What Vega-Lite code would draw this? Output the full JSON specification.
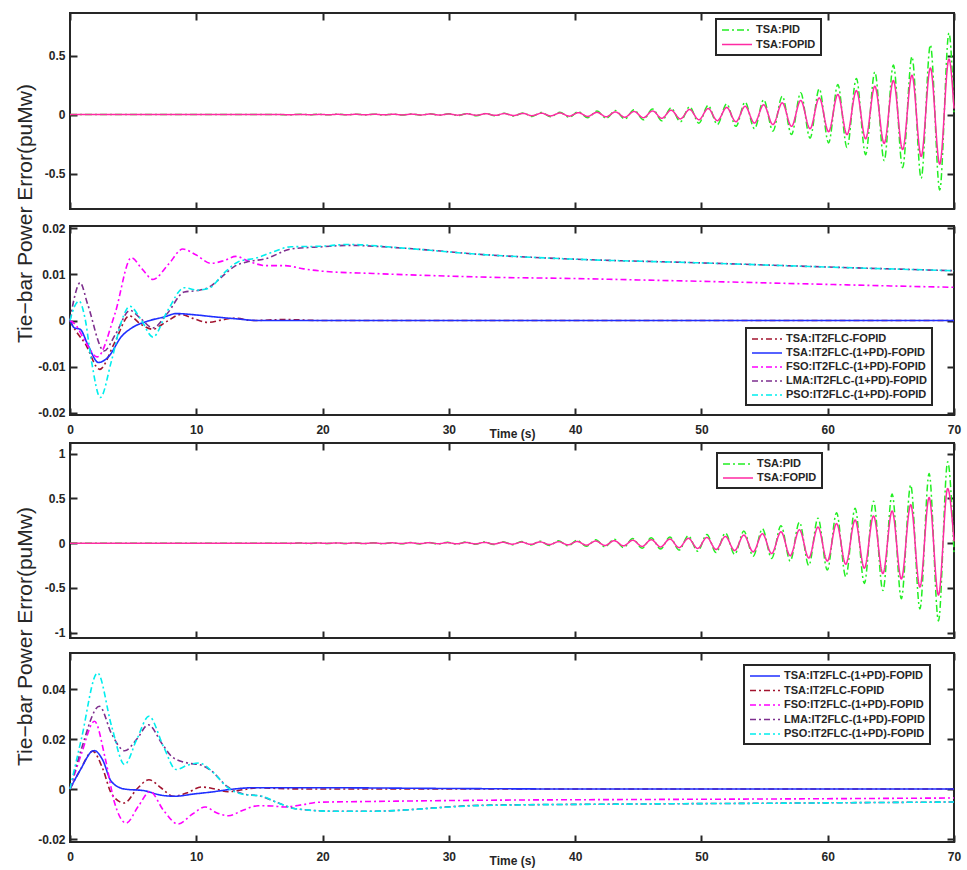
{
"$schema": "https://vega.github.io/schema/vega-lite/v6.json",
"background": "white",
"padding": {"left": 12, "top": 11, "right": 14, "bottom": 6},
"bounds": "flush",
"spacing": 5,
"config": {
  "view": {"stroke": "#262626", "strokeWidth": 2},
  "axis": {"domain": false, "grid": false, "tickColor": "#262626", "tickWidth": 2, "tickSize": -7, "labelFont": "Liberation Sans", "labelFontWeight": "bold", "labelFontSize": 12, "labelColor": "#262626", "labelFlush": false, "labelOverlap": false, "titleFont": "Liberation Sans", "titleColor": "#262626"},
  "axisBottom": {"labelPadding": 16},
  "axisLeft": {"labelPadding": 12},
  "legend": {"strokeWidth": 2}
},
"resolve": {"scale": {"color": "independent", "strokeDash": "independent", "x": "independent", "y": "independent"}},
"datasets": {
"p1": [
{"s":"TSA:PID","t":0,"v":0},{"s":"TSA:PID","t":10,"v":0},{"s":"TSA:PID","t":16,"v":0},
{"s":"TSA:PID","t":17.52,"v":-0.0015},{"s":"TSA:PID","t":18.26,"v":0.0015},{"s":"TSA:PID","t":18.99,"v":-0.0019},{"s":"TSA:PID","t":19.72,"v":0.002},{"s":"TSA:PID","t":20.46,"v":-0.0023},{"s":"TSA:PID","t":21.19,"v":0.0025},{"s":"TSA:PID","t":21.92,"v":-0.0028},{"s":"TSA:PID","t":22.66,"v":0.003},{"s":"TSA:PID","t":23.39,"v":-0.0033},{"s":"TSA:PID","t":24.12,"v":0.0035},{"s":"TSA:PID","t":24.86,"v":-0.004},{"s":"TSA:PID","t":25.59,"v":0.004},{"s":"TSA:PID","t":26.32,"v":-0.0047},{"s":"TSA:PID","t":27.06,"v":0.005},{"s":"TSA:PID","t":27.79,"v":-0.0056},{"s":"TSA:PID","t":28.52,"v":0.006},{"s":"TSA:PID","t":29.26,"v":-0.0067},{"s":"TSA:PID","t":29.99,"v":0.007},{"s":"TSA:PID","t":30.72,"v":-0.008},{"s":"TSA:PID","t":31.46,"v":0.0085},{"s":"TSA:PID","t":32.19,"v":-0.0095},{"s":"TSA:PID","t":32.93,"v":0.01},{"s":"TSA:PID","t":33.66,"v":-0.011},{"s":"TSA:PID","t":34.39,"v":0.012},{"s":"TSA:PID","t":35.13,"v":-0.013},{"s":"TSA:PID","t":35.86,"v":0.014},{"s":"TSA:PID","t":36.59,"v":-0.016},{"s":"TSA:PID","t":37.33,"v":0.017},{"s":"TSA:PID","t":38.06,"v":-0.019},{"s":"TSA:PID","t":38.79,"v":0.02},{"s":"TSA:PID","t":39.53,"v":-0.023},{"s":"TSA:PID","t":40.26,"v":0.024},{"s":"TSA:PID","t":40.99,"v":-0.027},{"s":"TSA:PID","t":41.73,"v":0.029},{"s":"TSA:PID","t":42.46,"v":-0.032},{"s":"TSA:PID","t":43.19,"v":0.034},{"s":"TSA:PID","t":43.93,"v":-0.038},{"s":"TSA:PID","t":44.66,"v":0.04},{"s":"TSA:PID","t":45.4,"v":-0.045},{"s":"TSA:PID","t":46.13,"v":0.048},{"s":"TSA:PID","t":46.86,"v":-0.053},{"s":"TSA:PID","t":47.6,"v":0.056},{"s":"TSA:PID","t":48.33,"v":-0.062},{"s":"TSA:PID","t":49.06,"v":0.066},{"s":"TSA:PID","t":49.8,"v":-0.073},{"s":"TSA:PID","t":50.53,"v":0.078},{"s":"TSA:PID","t":51.26,"v":-0.085},{"s":"TSA:PID","t":52,"v":0.09},{"s":"TSA:PID","t":52.73,"v":-0.1},{"s":"TSA:PID","t":53.46,"v":0.105},{"s":"TSA:PID","t":54.2,"v":-0.12},{"s":"TSA:PID","t":54.93,"v":0.125},{"s":"TSA:PID","t":55.66,"v":-0.14},{"s":"TSA:PID","t":56.4,"v":0.155},{"s":"TSA:PID","t":57.13,"v":-0.17},{"s":"TSA:PID","t":57.86,"v":0.184},{"s":"TSA:PID","t":58.6,"v":-0.2},{"s":"TSA:PID","t":59.33,"v":0.218},{"s":"TSA:PID","t":60.07,"v":-0.24},{"s":"TSA:PID","t":60.8,"v":0.255},{"s":"TSA:PID","t":61.53,"v":-0.28},{"s":"TSA:PID","t":62.27,"v":0.305},{"s":"TSA:PID","t":63,"v":-0.34},{"s":"TSA:PID","t":63.73,"v":0.36},{"s":"TSA:PID","t":64.47,"v":-0.39},{"s":"TSA:PID","t":65.2,"v":0.42},{"s":"TSA:PID","t":65.93,"v":-0.45},{"s":"TSA:PID","t":66.67,"v":0.49},{"s":"TSA:PID","t":67.4,"v":-0.54},{"s":"TSA:PID","t":68.13,"v":0.59},{"s":"TSA:PID","t":68.87,"v":-0.64},{"s":"TSA:PID","t":69.6,"v":0.69},{"s":"TSA:PID","t":70,"v":0.02},
{"s":"TSA:FOPID","t":0,"v":0},{"s":"TSA:FOPID","t":10,"v":0},{"s":"TSA:FOPID","t":16,"v":0},
{"s":"TSA:FOPID","t":17.52,"v":-0.001},{"s":"TSA:FOPID","t":18.26,"v":0.0012},{"s":"TSA:FOPID","t":18.99,"v":-0.0012},{"s":"TSA:FOPID","t":19.72,"v":0.0015},{"s":"TSA:FOPID","t":20.46,"v":-0.0015},{"s":"TSA:FOPID","t":21.19,"v":0.0018},{"s":"TSA:FOPID","t":21.92,"v":-0.0018},{"s":"TSA:FOPID","t":22.66,"v":0.0022},{"s":"TSA:FOPID","t":23.39,"v":-0.0022},{"s":"TSA:FOPID","t":24.12,"v":0.0026},{"s":"TSA:FOPID","t":24.86,"v":-0.0026},{"s":"TSA:FOPID","t":25.59,"v":0.003},{"s":"TSA:FOPID","t":26.32,"v":-0.003},{"s":"TSA:FOPID","t":27.06,"v":0.0036},{"s":"TSA:FOPID","t":27.79,"v":-0.0036},{"s":"TSA:FOPID","t":28.52,"v":0.0042},{"s":"TSA:FOPID","t":29.26,"v":-0.0042},{"s":"TSA:FOPID","t":29.99,"v":0.005},{"s":"TSA:FOPID","t":30.72,"v":-0.005},{"s":"TSA:FOPID","t":31.46,"v":0.006},{"s":"TSA:FOPID","t":32.19,"v":-0.006},{"s":"TSA:FOPID","t":32.93,"v":0.007},{"s":"TSA:FOPID","t":33.66,"v":-0.007},{"s":"TSA:FOPID","t":34.39,"v":0.0082},{"s":"TSA:FOPID","t":35.13,"v":-0.0082},{"s":"TSA:FOPID","t":35.86,"v":0.0097},{"s":"TSA:FOPID","t":36.59,"v":-0.0097},{"s":"TSA:FOPID","t":37.33,"v":0.0115},{"s":"TSA:FOPID","t":38.06,"v":-0.0115},{"s":"TSA:FOPID","t":38.79,"v":0.0135},{"s":"TSA:FOPID","t":39.53,"v":-0.0135},{"s":"TSA:FOPID","t":40.26,"v":0.016},{"s":"TSA:FOPID","t":40.99,"v":-0.016},{"s":"TSA:FOPID","t":41.73,"v":0.019},{"s":"TSA:FOPID","t":42.46,"v":-0.019},{"s":"TSA:FOPID","t":43.19,"v":0.022},{"s":"TSA:FOPID","t":43.93,"v":-0.023},{"s":"TSA:FOPID","t":44.66,"v":0.026},{"s":"TSA:FOPID","t":45.4,"v":-0.027},{"s":"TSA:FOPID","t":46.13,"v":0.031},{"s":"TSA:FOPID","t":46.86,"v":-0.032},{"s":"TSA:FOPID","t":47.6,"v":0.037},{"s":"TSA:FOPID","t":48.33,"v":-0.037},{"s":"TSA:FOPID","t":49.06,"v":0.043},{"s":"TSA:FOPID","t":49.8,"v":-0.044},{"s":"TSA:FOPID","t":50.53,"v":0.051},{"s":"TSA:FOPID","t":51.26,"v":-0.052},{"s":"TSA:FOPID","t":52,"v":0.06},{"s":"TSA:FOPID","t":52.73,"v":-0.061},{"s":"TSA:FOPID","t":53.46,"v":0.07},{"s":"TSA:FOPID","t":54.2,"v":-0.072},{"s":"TSA:FOPID","t":54.93,"v":0.083},{"s":"TSA:FOPID","t":55.66,"v":-0.085},{"s":"TSA:FOPID","t":56.4,"v":0.099},{"s":"TSA:FOPID","t":57.13,"v":-0.1},{"s":"TSA:FOPID","t":57.86,"v":0.119},{"s":"TSA:FOPID","t":58.6,"v":-0.12},{"s":"TSA:FOPID","t":59.33,"v":0.141},{"s":"TSA:FOPID","t":60.07,"v":-0.145},{"s":"TSA:FOPID","t":60.8,"v":0.17},{"s":"TSA:FOPID","t":61.53,"v":-0.17},{"s":"TSA:FOPID","t":62.27,"v":0.203},{"s":"TSA:FOPID","t":63,"v":-0.205},{"s":"TSA:FOPID","t":63.73,"v":0.24},{"s":"TSA:FOPID","t":64.47,"v":-0.245},{"s":"TSA:FOPID","t":65.2,"v":0.288},{"s":"TSA:FOPID","t":65.93,"v":-0.297},{"s":"TSA:FOPID","t":66.67,"v":0.333},{"s":"TSA:FOPID","t":67.4,"v":-0.355},{"s":"TSA:FOPID","t":68.13,"v":0.395},{"s":"TSA:FOPID","t":68.87,"v":-0.42},{"s":"TSA:FOPID","t":69.6,"v":0.47},{"s":"TSA:FOPID","t":70,"v":0.05}
],
"p3": [
{"s":"TSA:PID","t":0,"v":0},{"s":"TSA:PID","t":10,"v":0},{"s":"TSA:PID","t":16,"v":0},
{"s":"TSA:PID","t":17.42,"v":-0.0023},{"s":"TSA:PID","t":18.16,"v":0.0023},{"s":"TSA:PID","t":18.89,"v":-0.0028},{"s":"TSA:PID","t":19.62,"v":0.0028},{"s":"TSA:PID","t":20.36,"v":-0.0034},{"s":"TSA:PID","t":21.09,"v":0.0034},{"s":"TSA:PID","t":21.82,"v":-0.004},{"s":"TSA:PID","t":22.56,"v":0.004},{"s":"TSA:PID","t":23.29,"v":-0.0048},{"s":"TSA:PID","t":24.02,"v":0.005},{"s":"TSA:PID","t":24.76,"v":-0.0057},{"s":"TSA:PID","t":25.49,"v":0.006},{"s":"TSA:PID","t":26.22,"v":-0.0067},{"s":"TSA:PID","t":26.96,"v":0.007},{"s":"TSA:PID","t":27.69,"v":-0.008},{"s":"TSA:PID","t":28.42,"v":0.0085},{"s":"TSA:PID","t":29.16,"v":-0.0093},{"s":"TSA:PID","t":29.89,"v":0.01},{"s":"TSA:PID","t":30.62,"v":-0.011},{"s":"TSA:PID","t":31.36,"v":0.012},{"s":"TSA:PID","t":32.09,"v":-0.013},{"s":"TSA:PID","t":32.83,"v":0.0145},{"s":"TSA:PID","t":33.56,"v":-0.015},{"s":"TSA:PID","t":34.29,"v":0.017},{"s":"TSA:PID","t":35.03,"v":-0.018},{"s":"TSA:PID","t":35.76,"v":0.02},{"s":"TSA:PID","t":36.49,"v":-0.021},{"s":"TSA:PID","t":37.23,"v":0.023},{"s":"TSA:PID","t":37.96,"v":-0.025},{"s":"TSA:PID","t":38.69,"v":0.027},{"s":"TSA:PID","t":39.43,"v":-0.03},{"s":"TSA:PID","t":40.16,"v":0.032},{"s":"TSA:PID","t":40.89,"v":-0.035},{"s":"TSA:PID","t":41.63,"v":0.037},{"s":"TSA:PID","t":42.36,"v":-0.041},{"s":"TSA:PID","t":43.09,"v":0.044},{"s":"TSA:PID","t":43.83,"v":-0.048},{"s":"TSA:PID","t":44.56,"v":0.051},{"s":"TSA:PID","t":45.3,"v":-0.056},{"s":"TSA:PID","t":46.03,"v":0.06},{"s":"TSA:PID","t":46.76,"v":-0.066},{"s":"TSA:PID","t":47.5,"v":0.07},{"s":"TSA:PID","t":48.23,"v":-0.077},{"s":"TSA:PID","t":48.96,"v":0.082},{"s":"TSA:PID","t":49.7,"v":-0.09},{"s":"TSA:PID","t":50.43,"v":0.097},{"s":"TSA:PID","t":51.16,"v":-0.105},{"s":"TSA:PID","t":51.9,"v":0.115},{"s":"TSA:PID","t":52.63,"v":-0.125},{"s":"TSA:PID","t":53.36,"v":0.135},{"s":"TSA:PID","t":54.1,"v":-0.145},{"s":"TSA:PID","t":54.83,"v":0.16},{"s":"TSA:PID","t":55.56,"v":-0.17},{"s":"TSA:PID","t":56.3,"v":0.195},{"s":"TSA:PID","t":57.03,"v":-0.2},{"s":"TSA:PID","t":57.76,"v":0.235},{"s":"TSA:PID","t":58.5,"v":-0.25},{"s":"TSA:PID","t":59.23,"v":0.28},{"s":"TSA:PID","t":59.97,"v":-0.3},{"s":"TSA:PID","t":60.7,"v":0.34},{"s":"TSA:PID","t":61.43,"v":-0.375},{"s":"TSA:PID","t":62.17,"v":0.39},{"s":"TSA:PID","t":62.9,"v":-0.45},{"s":"TSA:PID","t":63.63,"v":0.47},{"s":"TSA:PID","t":64.37,"v":-0.53},{"s":"TSA:PID","t":65.1,"v":0.55},{"s":"TSA:PID","t":65.83,"v":-0.62},{"s":"TSA:PID","t":66.57,"v":0.65},{"s":"TSA:PID","t":67.3,"v":-0.735},{"s":"TSA:PID","t":68.03,"v":0.78},{"s":"TSA:PID","t":68.77,"v":-0.87},{"s":"TSA:PID","t":69.5,"v":0.91},{"s":"TSA:PID","t":70,"v":-0.1},
{"s":"TSA:FOPID","t":0,"v":0},{"s":"TSA:FOPID","t":10,"v":0},{"s":"TSA:FOPID","t":16,"v":0},
{"s":"TSA:FOPID","t":17.42,"v":-0.0015},{"s":"TSA:FOPID","t":18.16,"v":0.0017},{"s":"TSA:FOPID","t":18.89,"v":-0.0018},{"s":"TSA:FOPID","t":19.62,"v":0.002},{"s":"TSA:FOPID","t":20.36,"v":-0.0022},{"s":"TSA:FOPID","t":21.09,"v":0.0024},{"s":"TSA:FOPID","t":21.82,"v":-0.0026},{"s":"TSA:FOPID","t":22.56,"v":0.0028},{"s":"TSA:FOPID","t":23.29,"v":-0.003},{"s":"TSA:FOPID","t":24.02,"v":0.0033},{"s":"TSA:FOPID","t":24.76,"v":-0.0036},{"s":"TSA:FOPID","t":25.49,"v":0.0039},{"s":"TSA:FOPID","t":26.22,"v":-0.0042},{"s":"TSA:FOPID","t":26.96,"v":0.0046},{"s":"TSA:FOPID","t":27.69,"v":-0.005},{"s":"TSA:FOPID","t":28.42,"v":0.0054},{"s":"TSA:FOPID","t":29.16,"v":-0.0058},{"s":"TSA:FOPID","t":29.89,"v":0.0063},{"s":"TSA:FOPID","t":30.62,"v":-0.0069},{"s":"TSA:FOPID","t":31.36,"v":0.0075},{"s":"TSA:FOPID","t":32.09,"v":-0.0081},{"s":"TSA:FOPID","t":32.83,"v":0.0088},{"s":"TSA:FOPID","t":33.56,"v":-0.0096},{"s":"TSA:FOPID","t":34.29,"v":0.0103},{"s":"TSA:FOPID","t":35.03,"v":-0.0113},{"s":"TSA:FOPID","t":35.76,"v":0.012},{"s":"TSA:FOPID","t":36.49,"v":-0.0133},{"s":"TSA:FOPID","t":37.23,"v":0.0145},{"s":"TSA:FOPID","t":37.96,"v":-0.0157},{"s":"TSA:FOPID","t":38.69,"v":0.017},{"s":"TSA:FOPID","t":39.43,"v":-0.0185},{"s":"TSA:FOPID","t":40.16,"v":0.02},{"s":"TSA:FOPID","t":40.89,"v":-0.022},{"s":"TSA:FOPID","t":41.63,"v":0.024},{"s":"TSA:FOPID","t":42.36,"v":-0.026},{"s":"TSA:FOPID","t":43.09,"v":0.028},{"s":"TSA:FOPID","t":43.83,"v":-0.03},{"s":"TSA:FOPID","t":44.56,"v":0.033},{"s":"TSA:FOPID","t":45.3,"v":-0.036},{"s":"TSA:FOPID","t":46.03,"v":0.039},{"s":"TSA:FOPID","t":46.76,"v":-0.042},{"s":"TSA:FOPID","t":47.5,"v":0.046},{"s":"TSA:FOPID","t":48.23,"v":-0.05},{"s":"TSA:FOPID","t":48.96,"v":0.054},{"s":"TSA:FOPID","t":49.7,"v":-0.059},{"s":"TSA:FOPID","t":50.43,"v":0.064},{"s":"TSA:FOPID","t":51.16,"v":-0.07},{"s":"TSA:FOPID","t":51.9,"v":0.076},{"s":"TSA:FOPID","t":52.63,"v":-0.082},{"s":"TSA:FOPID","t":53.36,"v":0.09},{"s":"TSA:FOPID","t":54.1,"v":-0.097},{"s":"TSA:FOPID","t":54.83,"v":0.106},{"s":"TSA:FOPID","t":55.56,"v":-0.115},{"s":"TSA:FOPID","t":56.3,"v":0.127},{"s":"TSA:FOPID","t":57.03,"v":-0.14},{"s":"TSA:FOPID","t":57.76,"v":0.15},{"s":"TSA:FOPID","t":58.5,"v":-0.165},{"s":"TSA:FOPID","t":59.23,"v":0.18},{"s":"TSA:FOPID","t":59.97,"v":-0.2},{"s":"TSA:FOPID","t":60.7,"v":0.22},{"s":"TSA:FOPID","t":61.43,"v":-0.235},{"s":"TSA:FOPID","t":62.17,"v":0.26},{"s":"TSA:FOPID","t":62.9,"v":-0.28},{"s":"TSA:FOPID","t":63.63,"v":0.305},{"s":"TSA:FOPID","t":64.37,"v":-0.34},{"s":"TSA:FOPID","t":65.1,"v":0.36},{"s":"TSA:FOPID","t":65.83,"v":-0.4},{"s":"TSA:FOPID","t":66.57,"v":0.43},{"s":"TSA:FOPID","t":67.3,"v":-0.49},{"s":"TSA:FOPID","t":68.03,"v":0.51},{"s":"TSA:FOPID","t":68.77,"v":-0.58},{"s":"TSA:FOPID","t":69.5,"v":0.61},{"s":"TSA:FOPID","t":70,"v":0.02}
],
"p2": [
{"s":"TSA:IT2FLC-FOPID","t":0,"v":0},{"s":"TSA:IT2FLC-FOPID","t":0.4,"v":-0.002},{"s":"TSA:IT2FLC-FOPID","t":1.2,"v":-0.005},{"s":"TSA:IT2FLC-FOPID","t":2.35,"v":-0.0106},{"s":"TSA:IT2FLC-FOPID","t":3.5,"v":-0.005},{"s":"TSA:IT2FLC-FOPID","t":4.7,"v":0.001},{"s":"TSA:IT2FLC-FOPID","t":5.6,"v":-0.0008},{"s":"TSA:IT2FLC-FOPID","t":6.55,"v":-0.0019},{"s":"TSA:IT2FLC-FOPID","t":7.6,"v":-0.0003},{"s":"TSA:IT2FLC-FOPID","t":8.8,"v":0.0013},{"s":"TSA:IT2FLC-FOPID","t":9.8,"v":0.0004},{"s":"TSA:IT2FLC-FOPID","t":10.9,"v":-0.0004},{"s":"TSA:IT2FLC-FOPID","t":12,"v":0.0001},{"s":"TSA:IT2FLC-FOPID","t":13,"v":0.0005},{"s":"TSA:IT2FLC-FOPID","t":14.5,"v":0},{"s":"TSA:IT2FLC-FOPID","t":17,"v":0.0002},{"s":"TSA:IT2FLC-FOPID","t":20,"v":0},{"s":"TSA:IT2FLC-FOPID","t":70,"v":0},
{"s":"TSA:IT2FLC-(1+PD)-FOPID","t":0,"v":0},{"s":"TSA:IT2FLC-(1+PD)-FOPID","t":0.35,"v":-0.0016},{"s":"TSA:IT2FLC-(1+PD)-FOPID","t":0.8,"v":-0.0019},{"s":"TSA:IT2FLC-(1+PD)-FOPID","t":1.45,"v":-0.0055},{"s":"TSA:IT2FLC-(1+PD)-FOPID","t":2.25,"v":-0.0091},{"s":"TSA:IT2FLC-(1+PD)-FOPID","t":3,"v":-0.008},{"s":"TSA:IT2FLC-(1+PD)-FOPID","t":4.1,"v":-0.0034},{"s":"TSA:IT2FLC-(1+PD)-FOPID","t":4.9,"v":-0.0016},{"s":"TSA:IT2FLC-(1+PD)-FOPID","t":6.2,"v":-0.0001},{"s":"TSA:IT2FLC-(1+PD)-FOPID","t":7.5,"v":0.0008},{"s":"TSA:IT2FLC-(1+PD)-FOPID","t":8.4,"v":0.0015},{"s":"TSA:IT2FLC-(1+PD)-FOPID","t":10,"v":0.0012},{"s":"TSA:IT2FLC-(1+PD)-FOPID","t":11.4,"v":0.0008},{"s":"TSA:IT2FLC-(1+PD)-FOPID","t":13,"v":0.0004},{"s":"TSA:IT2FLC-(1+PD)-FOPID","t":15,"v":0},{"s":"TSA:IT2FLC-(1+PD)-FOPID","t":70,"v":0},
{"s":"FSO:IT2FLC-(1+PD)-FOPID","t":0,"v":0},{"s":"FSO:IT2FLC-(1+PD)-FOPID","t":0.4,"v":-0.0008},{"s":"FSO:IT2FLC-(1+PD)-FOPID","t":1.18,"v":-0.0044},{"s":"FSO:IT2FLC-(1+PD)-FOPID","t":2.15,"v":-0.0079},{"s":"FSO:IT2FLC-(1+PD)-FOPID","t":3.55,"v":0.0014},{"s":"FSO:IT2FLC-(1+PD)-FOPID","t":4.86,"v":0.0136},{"s":"FSO:IT2FLC-(1+PD)-FOPID","t":5.7,"v":0.0112},{"s":"FSO:IT2FLC-(1+PD)-FOPID","t":6.57,"v":0.0089},{"s":"FSO:IT2FLC-(1+PD)-FOPID","t":7.8,"v":0.0122},{"s":"FSO:IT2FLC-(1+PD)-FOPID","t":8.93,"v":0.0155},{"s":"FSO:IT2FLC-(1+PD)-FOPID","t":10,"v":0.0142},{"s":"FSO:IT2FLC-(1+PD)-FOPID","t":11.16,"v":0.0124},{"s":"FSO:IT2FLC-(1+PD)-FOPID","t":12.2,"v":0.013},{"s":"FSO:IT2FLC-(1+PD)-FOPID","t":13.13,"v":0.0139},{"s":"FSO:IT2FLC-(1+PD)-FOPID","t":14.2,"v":0.0128},{"s":"FSO:IT2FLC-(1+PD)-FOPID","t":15.5,"v":0.0119},{"s":"FSO:IT2FLC-(1+PD)-FOPID","t":17,"v":0.0119},{"s":"FSO:IT2FLC-(1+PD)-FOPID","t":18.5,"v":0.0112},{"s":"FSO:IT2FLC-(1+PD)-FOPID","t":20,"v":0.0107},{"s":"FSO:IT2FLC-(1+PD)-FOPID","t":24,"v":0.0102},{"s":"FSO:IT2FLC-(1+PD)-FOPID","t":28,"v":0.0098},{"s":"FSO:IT2FLC-(1+PD)-FOPID","t":33,"v":0.0094},{"s":"FSO:IT2FLC-(1+PD)-FOPID","t":40,"v":0.0091},{"s":"FSO:IT2FLC-(1+PD)-FOPID","t":45,"v":0.0088},{"s":"FSO:IT2FLC-(1+PD)-FOPID","t":50,"v":0.0085},{"s":"FSO:IT2FLC-(1+PD)-FOPID","t":57.5,"v":0.008},{"s":"FSO:IT2FLC-(1+PD)-FOPID","t":65,"v":0.0075},{"s":"FSO:IT2FLC-(1+PD)-FOPID","t":70,"v":0.0072},
{"s":"LMA:IT2FLC-(1+PD)-FOPID","t":0,"v":0},{"s":"LMA:IT2FLC-(1+PD)-FOPID","t":0.35,"v":0.005},{"s":"LMA:IT2FLC-(1+PD)-FOPID","t":0.8,"v":0.0082},{"s":"LMA:IT2FLC-(1+PD)-FOPID","t":1.4,"v":0.0035},{"s":"LMA:IT2FLC-(1+PD)-FOPID","t":2.7,"v":-0.0066},{"s":"LMA:IT2FLC-(1+PD)-FOPID","t":3.6,"v":-0.003},{"s":"LMA:IT2FLC-(1+PD)-FOPID","t":4.75,"v":0.0022},{"s":"LMA:IT2FLC-(1+PD)-FOPID","t":5.6,"v":0.0004},{"s":"LMA:IT2FLC-(1+PD)-FOPID","t":6.57,"v":-0.0016},{"s":"LMA:IT2FLC-(1+PD)-FOPID","t":7.7,"v":0.0015},{"s":"LMA:IT2FLC-(1+PD)-FOPID","t":9.05,"v":0.0062},{"s":"LMA:IT2FLC-(1+PD)-FOPID","t":10.1,"v":0.0065},{"s":"LMA:IT2FLC-(1+PD)-FOPID","t":11,"v":0.0072},{"s":"LMA:IT2FLC-(1+PD)-FOPID","t":12,"v":0.0094},{"s":"LMA:IT2FLC-(1+PD)-FOPID","t":13,"v":0.0117},{"s":"LMA:IT2FLC-(1+PD)-FOPID","t":14,"v":0.0127},{"s":"LMA:IT2FLC-(1+PD)-FOPID","t":15.5,"v":0.0134},{"s":"LMA:IT2FLC-(1+PD)-FOPID","t":17.5,"v":0.0155},{"s":"LMA:IT2FLC-(1+PD)-FOPID","t":20,"v":0.016},{"s":"LMA:IT2FLC-(1+PD)-FOPID","t":22,"v":0.0163},{"s":"LMA:IT2FLC-(1+PD)-FOPID","t":26.4,"v":0.0157},{"s":"LMA:IT2FLC-(1+PD)-FOPID","t":32.7,"v":0.0143},{"s":"LMA:IT2FLC-(1+PD)-FOPID","t":40,"v":0.0133},{"s":"LMA:IT2FLC-(1+PD)-FOPID","t":50,"v":0.0125},{"s":"LMA:IT2FLC-(1+PD)-FOPID","t":60,"v":0.0116},{"s":"LMA:IT2FLC-(1+PD)-FOPID","t":70,"v":0.0108},
{"s":"PSO:IT2FLC-(1+PD)-FOPID","t":0,"v":0},{"s":"PSO:IT2FLC-(1+PD)-FOPID","t":0.35,"v":0.003},{"s":"PSO:IT2FLC-(1+PD)-FOPID","t":0.72,"v":0.0042},{"s":"PSO:IT2FLC-(1+PD)-FOPID","t":1.18,"v":0.0006},{"s":"PSO:IT2FLC-(1+PD)-FOPID","t":1.7,"v":-0.0088},{"s":"PSO:IT2FLC-(1+PD)-FOPID","t":2.4,"v":-0.0167},{"s":"PSO:IT2FLC-(1+PD)-FOPID","t":3.28,"v":-0.0088},{"s":"PSO:IT2FLC-(1+PD)-FOPID","t":4.1,"v":0},{"s":"PSO:IT2FLC-(1+PD)-FOPID","t":4.73,"v":0.0031},{"s":"PSO:IT2FLC-(1+PD)-FOPID","t":5.6,"v":0.0003},{"s":"PSO:IT2FLC-(1+PD)-FOPID","t":6.57,"v":-0.0036},{"s":"PSO:IT2FLC-(1+PD)-FOPID","t":7.7,"v":0.002},{"s":"PSO:IT2FLC-(1+PD)-FOPID","t":9.05,"v":0.0071},{"s":"PSO:IT2FLC-(1+PD)-FOPID","t":10.1,"v":0.0066},{"s":"PSO:IT2FLC-(1+PD)-FOPID","t":11,"v":0.007},{"s":"PSO:IT2FLC-(1+PD)-FOPID","t":12.2,"v":0.0103},{"s":"PSO:IT2FLC-(1+PD)-FOPID","t":13.3,"v":0.0127},{"s":"PSO:IT2FLC-(1+PD)-FOPID","t":14.8,"v":0.0136},{"s":"PSO:IT2FLC-(1+PD)-FOPID","t":15.9,"v":0.0147},{"s":"PSO:IT2FLC-(1+PD)-FOPID","t":17.5,"v":0.016},{"s":"PSO:IT2FLC-(1+PD)-FOPID","t":19.8,"v":0.0161},{"s":"PSO:IT2FLC-(1+PD)-FOPID","t":22,"v":0.0165},{"s":"PSO:IT2FLC-(1+PD)-FOPID","t":26.4,"v":0.0157},{"s":"PSO:IT2FLC-(1+PD)-FOPID","t":32.7,"v":0.0143},{"s":"PSO:IT2FLC-(1+PD)-FOPID","t":40,"v":0.0133},{"s":"PSO:IT2FLC-(1+PD)-FOPID","t":50,"v":0.0125},{"s":"PSO:IT2FLC-(1+PD)-FOPID","t":60,"v":0.0116},{"s":"PSO:IT2FLC-(1+PD)-FOPID","t":70,"v":0.0108}
],
"p4": [
{"s":"TSA:IT2FLC-FOPID","t":0,"v":0},{"s":"TSA:IT2FLC-FOPID","t":0.8,"v":0.0075},{"s":"TSA:IT2FLC-FOPID","t":1.8,"v":0.0151},{"s":"TSA:IT2FLC-FOPID","t":2.6,"v":0.008},{"s":"TSA:IT2FLC-FOPID","t":3.3,"v":-0.002},{"s":"TSA:IT2FLC-FOPID","t":4.3,"v":-0.0056},{"s":"TSA:IT2FLC-FOPID","t":5.3,"v":0},{"s":"TSA:IT2FLC-FOPID","t":6.25,"v":0.0037},{"s":"TSA:IT2FLC-FOPID","t":7.2,"v":0.0005},{"s":"TSA:IT2FLC-FOPID","t":8.2,"v":-0.0029},{"s":"TSA:IT2FLC-FOPID","t":9.3,"v":-0.0015},{"s":"TSA:IT2FLC-FOPID","t":10.4,"v":0.0008},{"s":"TSA:IT2FLC-FOPID","t":11.5,"v":0},{"s":"TSA:IT2FLC-FOPID","t":12.5,"v":-0.0011},{"s":"TSA:IT2FLC-FOPID","t":13.7,"v":-0.0003},{"s":"TSA:IT2FLC-FOPID","t":14.9,"v":0.0005},{"s":"TSA:IT2FLC-FOPID","t":17,"v":0.0001},{"s":"TSA:IT2FLC-FOPID","t":20,"v":0},{"s":"TSA:IT2FLC-FOPID","t":70,"v":0},
{"s":"TSA:IT2FLC-(1+PD)-FOPID","t":0,"v":0},{"s":"TSA:IT2FLC-(1+PD)-FOPID","t":0.8,"v":0.0075},{"s":"TSA:IT2FLC-(1+PD)-FOPID","t":1.9,"v":0.0154},{"s":"TSA:IT2FLC-(1+PD)-FOPID","t":2.6,"v":0.0115},{"s":"TSA:IT2FLC-(1+PD)-FOPID","t":3.26,"v":0.0031},{"s":"TSA:IT2FLC-(1+PD)-FOPID","t":4.3,"v":0},{"s":"TSA:IT2FLC-(1+PD)-FOPID","t":5.9,"v":-0.0007},{"s":"TSA:IT2FLC-(1+PD)-FOPID","t":7.24,"v":-0.0025},{"s":"TSA:IT2FLC-(1+PD)-FOPID","t":8.3,"v":-0.0029},{"s":"TSA:IT2FLC-(1+PD)-FOPID","t":9.8,"v":-0.002},{"s":"TSA:IT2FLC-(1+PD)-FOPID","t":11.2,"v":-0.0012},{"s":"TSA:IT2FLC-(1+PD)-FOPID","t":13,"v":0},{"s":"TSA:IT2FLC-(1+PD)-FOPID","t":14.5,"v":0.0005},{"s":"TSA:IT2FLC-(1+PD)-FOPID","t":20,"v":0.0005},{"s":"TSA:IT2FLC-(1+PD)-FOPID","t":30,"v":0.0002},{"s":"TSA:IT2FLC-(1+PD)-FOPID","t":40,"v":0},{"s":"TSA:IT2FLC-(1+PD)-FOPID","t":70,"v":0},
{"s":"FSO:IT2FLC-(1+PD)-FOPID","t":0,"v":0},{"s":"FSO:IT2FLC-(1+PD)-FOPID","t":0.9,"v":0.014},{"s":"FSO:IT2FLC-(1+PD)-FOPID","t":1.94,"v":0.0271},{"s":"FSO:IT2FLC-(1+PD)-FOPID","t":2.8,"v":0.012},{"s":"FSO:IT2FLC-(1+PD)-FOPID","t":3.5,"v":-0.005},{"s":"FSO:IT2FLC-(1+PD)-FOPID","t":4.45,"v":-0.0136},{"s":"FSO:IT2FLC-(1+PD)-FOPID","t":5.4,"v":-0.007},{"s":"FSO:IT2FLC-(1+PD)-FOPID","t":6.34,"v":-0.001},{"s":"FSO:IT2FLC-(1+PD)-FOPID","t":7.4,"v":-0.0085},{"s":"FSO:IT2FLC-(1+PD)-FOPID","t":8.56,"v":-0.014},{"s":"FSO:IT2FLC-(1+PD)-FOPID","t":9.7,"v":-0.01},{"s":"FSO:IT2FLC-(1+PD)-FOPID","t":10.7,"v":-0.0072},{"s":"FSO:IT2FLC-(1+PD)-FOPID","t":11.6,"v":-0.0095},{"s":"FSO:IT2FLC-(1+PD)-FOPID","t":12.55,"v":-0.0107},{"s":"FSO:IT2FLC-(1+PD)-FOPID","t":13.7,"v":-0.0085},{"s":"FSO:IT2FLC-(1+PD)-FOPID","t":14.9,"v":-0.0067},{"s":"FSO:IT2FLC-(1+PD)-FOPID","t":16,"v":-0.0068},{"s":"FSO:IT2FLC-(1+PD)-FOPID","t":17,"v":-0.0072},{"s":"FSO:IT2FLC-(1+PD)-FOPID","t":18.5,"v":-0.0062},{"s":"FSO:IT2FLC-(1+PD)-FOPID","t":19.7,"v":-0.0053},{"s":"FSO:IT2FLC-(1+PD)-FOPID","t":23.7,"v":-0.005},{"s":"FSO:IT2FLC-(1+PD)-FOPID","t":32.7,"v":-0.0045},{"s":"FSO:IT2FLC-(1+PD)-FOPID","t":45,"v":-0.0042},{"s":"FSO:IT2FLC-(1+PD)-FOPID","t":55,"v":-0.004},{"s":"FSO:IT2FLC-(1+PD)-FOPID","t":70,"v":-0.0036},
{"s":"LMA:IT2FLC-(1+PD)-FOPID","t":0,"v":0},{"s":"LMA:IT2FLC-(1+PD)-FOPID","t":0.9,"v":0.016},{"s":"LMA:IT2FLC-(1+PD)-FOPID","t":2.33,"v":0.0331},{"s":"LMA:IT2FLC-(1+PD)-FOPID","t":3.3,"v":0.022},{"s":"LMA:IT2FLC-(1+PD)-FOPID","t":4.33,"v":0.0153},{"s":"LMA:IT2FLC-(1+PD)-FOPID","t":5.3,"v":0.02},{"s":"LMA:IT2FLC-(1+PD)-FOPID","t":6.2,"v":0.0257},{"s":"LMA:IT2FLC-(1+PD)-FOPID","t":7.3,"v":0.018},{"s":"LMA:IT2FLC-(1+PD)-FOPID","t":8.1,"v":0.0128},{"s":"LMA:IT2FLC-(1+PD)-FOPID","t":9.3,"v":0.0104},{"s":"LMA:IT2FLC-(1+PD)-FOPID","t":10.3,"v":0.0097},{"s":"LMA:IT2FLC-(1+PD)-FOPID","t":11.2,"v":0.0072},{"s":"LMA:IT2FLC-(1+PD)-FOPID","t":12.5,"v":0.0008},{"s":"LMA:IT2FLC-(1+PD)-FOPID","t":13.6,"v":-0.0018},{"s":"LMA:IT2FLC-(1+PD)-FOPID","t":15.2,"v":-0.003},{"s":"LMA:IT2FLC-(1+PD)-FOPID","t":16.5,"v":-0.0056},{"s":"LMA:IT2FLC-(1+PD)-FOPID","t":17.85,"v":-0.0079},{"s":"LMA:IT2FLC-(1+PD)-FOPID","t":21,"v":-0.0089},{"s":"LMA:IT2FLC-(1+PD)-FOPID","t":23.7,"v":-0.0089},{"s":"LMA:IT2FLC-(1+PD)-FOPID","t":32.7,"v":-0.0065},{"s":"LMA:IT2FLC-(1+PD)-FOPID","t":45,"v":-0.006},{"s":"LMA:IT2FLC-(1+PD)-FOPID","t":55,"v":-0.0057},{"s":"LMA:IT2FLC-(1+PD)-FOPID","t":70,"v":-0.0052},
{"s":"PSO:IT2FLC-(1+PD)-FOPID","t":0,"v":0},{"s":"PSO:IT2FLC-(1+PD)-FOPID","t":0.9,"v":0.02},{"s":"PSO:IT2FLC-(1+PD)-FOPID","t":2.18,"v":0.0464},{"s":"PSO:IT2FLC-(1+PD)-FOPID","t":3.3,"v":0.025},{"s":"PSO:IT2FLC-(1+PD)-FOPID","t":4.32,"v":0.0098},{"s":"PSO:IT2FLC-(1+PD)-FOPID","t":5.3,"v":0.02},{"s":"PSO:IT2FLC-(1+PD)-FOPID","t":6.25,"v":0.0291},{"s":"PSO:IT2FLC-(1+PD)-FOPID","t":7.4,"v":0.017},{"s":"PSO:IT2FLC-(1+PD)-FOPID","t":8.4,"v":0.0078},{"s":"PSO:IT2FLC-(1+PD)-FOPID","t":9.3,"v":0.0095},{"s":"PSO:IT2FLC-(1+PD)-FOPID","t":10.2,"v":0.0104},{"s":"PSO:IT2FLC-(1+PD)-FOPID","t":11.3,"v":0.0068},{"s":"PSO:IT2FLC-(1+PD)-FOPID","t":12.55,"v":0.0003},{"s":"PSO:IT2FLC-(1+PD)-FOPID","t":13.6,"v":-0.002},{"s":"PSO:IT2FLC-(1+PD)-FOPID","t":15.2,"v":-0.0029},{"s":"PSO:IT2FLC-(1+PD)-FOPID","t":16.5,"v":-0.0056},{"s":"PSO:IT2FLC-(1+PD)-FOPID","t":17.85,"v":-0.0079},{"s":"PSO:IT2FLC-(1+PD)-FOPID","t":21,"v":-0.0089},{"s":"PSO:IT2FLC-(1+PD)-FOPID","t":23.7,"v":-0.0089},{"s":"PSO:IT2FLC-(1+PD)-FOPID","t":32.7,"v":-0.0066},{"s":"PSO:IT2FLC-(1+PD)-FOPID","t":45,"v":-0.006},{"s":"PSO:IT2FLC-(1+PD)-FOPID","t":55,"v":-0.0057},{"s":"PSO:IT2FLC-(1+PD)-FOPID","t":70,"v":-0.0052}
]
},
"vconcat": [
{
 "width": 884, "height": 196,
 "data": {"name": "p1"},
 "layer": [
  {"mark": {"type": "line", "interpolate": "monotone", "strokeWidth": 1.5},
   "encoding": {
    "x": {"field": "t", "type": "quantitative", "scale": {"domain": [0, 70], "nice": false}, "axis": {"values": [0,10,20,30,40,50,60,70], "labels": false, "title": null}},
    "y": {"field": "v", "type": "quantitative", "scale": {"domain": [-0.8, 0.86], "nice": false, "zero": false}, "axis": {"values": [-0.5, 0, 0.5], "format": ".1~f", "labelExpr": "replace(datum.label, '−', '-')", "title": null}},
    "color": {"field": "s", "type": "nominal", "scale": {"domain": ["TSA:PID", "TSA:FOPID"], "range": ["#22ee22", "#ff2aa3"]},
      "legend": {"title": null, "orient": "none", "legendX": 646, "legendY": 6, "symbolType": "M-1,0H5", "symbolSize": 100, "symbolStrokeWidth": 1.5, "labelFont": "Liberation Sans", "labelFontWeight": "bold", "labelFontSize": 11, "labelColor": "#262626", "labelOffset": 23, "strokeColor": "#262626", "fillColor": "#ffffff", "padding": 5, "rowPadding": 3.5}},
    "strokeDash": {"field": "s", "type": "nominal", "scale": {"domain": ["TSA:PID", "TSA:FOPID"], "range": [[7,3,2,3],[1,0]]},
      "legend": {"title": null, "orient": "none", "legendX": 646, "legendY": 6, "symbolType": "M-1,0H5", "symbolSize": 100, "symbolStrokeWidth": 1.5, "labelFont": "Liberation Sans", "labelFontWeight": "bold", "labelFontSize": 11, "labelColor": "#262626", "labelOffset": 23, "strokeColor": "#262626", "fillColor": "#ffffff", "padding": 5, "rowPadding": 3.5}}
   }},
  {"mark": {"type": "point", "opacity": 0},
   "encoding": {
    "x": {"field": "t", "type": "quantitative", "scale": {"domain": [0, 70], "nice": false}, "axis": {"orient": "top", "values": [0,10,20,30,40,50,60,70], "labels": false, "title": null}},
    "y": {"field": "v", "type": "quantitative", "scale": {"domain": [-0.8, 0.86], "nice": false, "zero": false}, "axis": {"orient": "right", "values": [-0.5, 0, 0.5], "labels": false, "title": null}}
   }}
 ],
 "resolve": {"axis": {"x": "independent", "y": "independent"}}
},
{"width": 884, "height": 7, "data": {"values": []}, "mark": {"type": "point"}, "view": {"stroke": null}},
{
 "width": 884, "height": 189,
 "data": {"name": "p2"},
 "layer": [
  {"mark": {"type": "line", "interpolate": "monotone", "strokeWidth": 1.6},
   "encoding": {
    "x": {"field": "t", "type": "quantitative", "scale": {"domain": [0, 70], "nice": false}, "axis": {"values": [0,10,20,30,40,50,60,70], "title": "Time (s)", "titleFontWeight": "bold", "titleFontSize": 12, "titleY": 13, "titleBaseline": "top"}},
    "y": {"field": "v", "type": "quantitative", "scale": {"domain": [-0.0205, 0.0205], "nice": false, "zero": false}, "axis": {"values": [-0.02, -0.01, 0, 0.01, 0.02], "format": ".2~f", "labelExpr": "replace(datum.label, '−', '-')", "title": "Tie−bar Power Error(puMw)", "titleFontSize": 21, "titleFontWeight": "normal", "titleX": -39, "titleY": -13, "titleAngle": -90, "titleAlign": "center", "titleBaseline": "alphabetic"}},
    "color": {"field": "s", "type": "nominal", "scale": {"domain": ["TSA:IT2FLC-FOPID", "TSA:IT2FLC-(1+PD)-FOPID", "FSO:IT2FLC-(1+PD)-FOPID", "LMA:IT2FLC-(1+PD)-FOPID", "PSO:IT2FLC-(1+PD)-FOPID"], "range": ["#a2142f", "#1f2fff", "#ff00ff", "#7e2f8e", "#00eeee"]},
      "legend": {"title": null, "orient": "none", "legendX": 676, "legendY": 102, "symbolType": "M-1,0H5", "symbolSize": 100, "symbolStrokeWidth": 1.6, "labelFont": "Liberation Sans", "labelFontWeight": "bold", "labelFontSize": 11, "labelColor": "#262626", "labelOffset": 23, "strokeColor": "#262626", "fillColor": "#ffffff", "padding": 5, "rowPadding": 3}},
    "strokeDash": {"field": "s", "type": "nominal", "scale": {"domain": ["TSA:IT2FLC-FOPID", "TSA:IT2FLC-(1+PD)-FOPID", "FSO:IT2FLC-(1+PD)-FOPID", "LMA:IT2FLC-(1+PD)-FOPID", "PSO:IT2FLC-(1+PD)-FOPID"], "range": [[6,3,2,3],[1,0],[6,3,2,3],[6,3,2,3],[6,3,2,3]]},
      "legend": {"title": null, "orient": "none", "legendX": 676, "legendY": 102, "symbolType": "M-1,0H5", "symbolSize": 100, "symbolStrokeWidth": 1.6, "labelFont": "Liberation Sans", "labelFontWeight": "bold", "labelFontSize": 11, "labelColor": "#262626", "labelOffset": 23, "strokeColor": "#262626", "fillColor": "#ffffff", "padding": 5, "rowPadding": 3}}
   }},
  {"mark": {"type": "point", "opacity": 0},
   "encoding": {
    "x": {"field": "t", "type": "quantitative", "scale": {"domain": [0, 70], "nice": false}, "axis": {"orient": "top", "values": [0,10,20,30,40,50,60,70], "labels": false, "title": null}},
    "y": {"field": "v", "type": "quantitative", "scale": {"domain": [-0.0205, 0.0205], "nice": false, "zero": false}, "axis": {"orient": "right", "values": [-0.02, -0.01, 0, 0.01, 0.02], "labels": false, "title": null}}
   }}
 ],
 "resolve": {"axis": {"x": "independent", "y": "independent"}}
},
{"width": 884, "height": 18, "data": {"values": []}, "mark": {"type": "point"}, "view": {"stroke": null}},
{
 "width": 884, "height": 195,
 "data": {"name": "p3"},
 "layer": [
  {"mark": {"type": "line", "interpolate": "monotone", "strokeWidth": 1.5},
   "encoding": {
    "x": {"field": "t", "type": "quantitative", "scale": {"domain": [0, 70], "nice": false}, "axis": {"values": [0,10,20,30,40,50,60,70], "labels": false, "title": null}},
    "y": {"field": "v", "type": "quantitative", "scale": {"domain": [-1.06, 1.12], "nice": false, "zero": false}, "axis": {"values": [-1, -0.5, 0, 0.5, 1], "format": ".1~f", "labelExpr": "replace(datum.label, '−', '-')", "title": null}},
    "color": {"field": "s", "type": "nominal", "scale": {"domain": ["TSA:PID", "TSA:FOPID"], "range": ["#22ee22", "#ff2aa3"]},
      "legend": {"title": null, "orient": "none", "legendX": 647, "legendY": 10, "symbolType": "M-1,0H5", "symbolSize": 100, "symbolStrokeWidth": 1.5, "labelFont": "Liberation Sans", "labelFontWeight": "bold", "labelFontSize": 11, "labelColor": "#262626", "labelOffset": 23, "strokeColor": "#262626", "fillColor": "#ffffff", "padding": 5, "rowPadding": 3}},
    "strokeDash": {"field": "s", "type": "nominal", "scale": {"domain": ["TSA:PID", "TSA:FOPID"], "range": [[7,3,2,3],[1,0]]},
      "legend": {"title": null, "orient": "none", "legendX": 647, "legendY": 10, "symbolType": "M-1,0H5", "symbolSize": 100, "symbolStrokeWidth": 1.5, "labelFont": "Liberation Sans", "labelFontWeight": "bold", "labelFontSize": 11, "labelColor": "#262626", "labelOffset": 23, "strokeColor": "#262626", "fillColor": "#ffffff", "padding": 5, "rowPadding": 3}}
   }},
  {"mark": {"type": "point", "opacity": 0},
   "encoding": {
    "x": {"field": "t", "type": "quantitative", "scale": {"domain": [0, 70], "nice": false}, "axis": {"orient": "top", "values": [0,10,20,30,40,50,60,70], "labels": false, "title": null}},
    "y": {"field": "v", "type": "quantitative", "scale": {"domain": [-1.06, 1.12], "nice": false, "zero": false}, "axis": {"orient": "right", "values": [-1, -0.5, 0, 0.5, 1], "labels": false, "title": null}}
   }}
 ],
 "resolve": {"axis": {"x": "independent", "y": "independent"}}
},
{"width": 884, "height": 5, "data": {"values": []}, "mark": {"type": "point"}, "view": {"stroke": null}},
{
 "width": 884, "height": 189,
 "data": {"name": "p4"},
 "layer": [
  {"mark": {"type": "line", "interpolate": "monotone", "strokeWidth": 1.6},
   "encoding": {
    "x": {"field": "t", "type": "quantitative", "scale": {"domain": [0, 70], "nice": false}, "axis": {"values": [0,10,20,30,40,50,60,70], "title": "Time (s)", "titleFontWeight": "bold", "titleFontSize": 12, "titleY": 13, "titleBaseline": "top"}},
    "y": {"field": "v", "type": "quantitative", "scale": {"domain": [-0.0212, 0.0544], "nice": false, "zero": false}, "axis": {"values": [-0.02, 0, 0.02, 0.04], "format": ".2~f", "labelExpr": "replace(datum.label, '−', '-')", "title": "Tie−bar Power Error(puMw)", "titleFontSize": 21, "titleFontWeight": "normal", "titleX": -39, "titleY": -17, "titleAngle": -90, "titleAlign": "center", "titleBaseline": "alphabetic"}},
    "color": {"field": "s", "type": "nominal", "scale": {"domain": ["TSA:IT2FLC-(1+PD)-FOPID", "TSA:IT2FLC-FOPID", "FSO:IT2FLC-(1+PD)-FOPID", "LMA:IT2FLC-(1+PD)-FOPID", "PSO:IT2FLC-(1+PD)-FOPID"], "range": ["#1f2fff", "#a2142f", "#ff00ff", "#7e2f8e", "#00eeee"]},
      "legend": {"title": null, "orient": "none", "legendX": 674, "legendY": 12, "symbolType": "M-1,0H5", "symbolSize": 100, "symbolStrokeWidth": 1.6, "labelFont": "Liberation Sans", "labelFontWeight": "bold", "labelFontSize": 11, "labelColor": "#262626", "labelOffset": 23, "strokeColor": "#262626", "fillColor": "#ffffff", "padding": 5, "rowPadding": 3.5}},
    "strokeDash": {"field": "s", "type": "nominal", "scale": {"domain": ["TSA:IT2FLC-(1+PD)-FOPID", "TSA:IT2FLC-FOPID", "FSO:IT2FLC-(1+PD)-FOPID", "LMA:IT2FLC-(1+PD)-FOPID", "PSO:IT2FLC-(1+PD)-FOPID"], "range": [[1,0],[6,3,2,3],[6,3,2,3],[6,3,2,3],[6,3,2,3]]},
      "legend": {"title": null, "orient": "none", "legendX": 674, "legendY": 12, "symbolType": "M-1,0H5", "symbolSize": 100, "symbolStrokeWidth": 1.6, "labelFont": "Liberation Sans", "labelFontWeight": "bold", "labelFontSize": 11, "labelColor": "#262626", "labelOffset": 23, "strokeColor": "#262626", "fillColor": "#ffffff", "padding": 5, "rowPadding": 3.5}}
   }},
  {"mark": {"type": "point", "opacity": 0},
   "encoding": {
    "x": {"field": "t", "type": "quantitative", "scale": {"domain": [0, 70], "nice": false}, "axis": {"orient": "top", "values": [0,10,20,30,40,50,60,70], "labels": false, "title": null}},
    "y": {"field": "v", "type": "quantitative", "scale": {"domain": [-0.0212, 0.0544], "nice": false, "zero": false}, "axis": {"orient": "right", "values": [-0.02, 0, 0.02, 0.04], "labels": false, "title": null}}
   }}
 ],
 "resolve": {"axis": {"x": "independent", "y": "independent"}}
}
]
}
